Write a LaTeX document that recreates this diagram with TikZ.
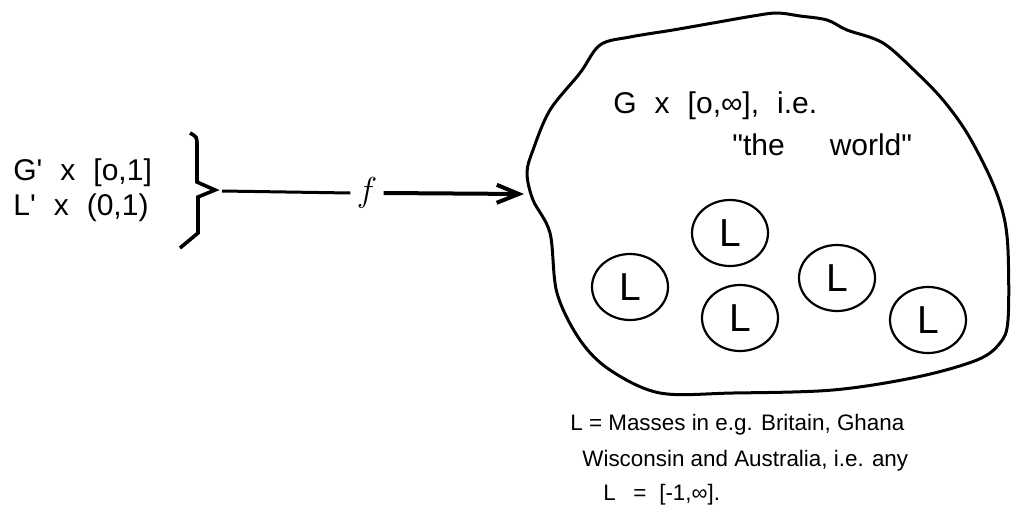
\documentclass[tikz,border=0pt]{standalone}
\usepackage{fontspec}
\setmainfont{Liberation Sans}[Ligatures=TeXOff]
\usetikzlibrary{arrows.meta,shapes.geometric}

\begin{document}
\begin{tikzpicture}[
  x=0.5pt, y=-0.5pt,
  label/.style={anchor=base west, inner sep=0pt,
                font={\fontsize{15}{18}\selectfont\spaceskip=0.6em\relax}},
  note/.style={anchor=base west, inner sep=0pt, font=\fontsize{11.2}{14}\selectfont},
  mass/.style={draw, ellipse, line width=1.1pt, minimum width=38pt,
               minimum height=33pt, inner sep=0pt, font=\fontsize{19.5}{22}\selectfont},
  brace/.style={line width=1.8pt, line join=miter},
  world/.style={line width=1.5pt, line join=round},
  map/.style={line width=1.5pt},
  maparrow/.style={line width=2pt, -{Straight Barb[length=11pt,width=9pt]}},
]
  \useasboundingbox (0,0) rectangle (1012,504);

  \node[label] (gsrc) at (13,180) {G' x [o,1]};
  \node[label] (lsrc) at (13,215) {L' x (0,1)};

  \draw[brace] (190,133) .. controls (197,137) .. (197,146) -- (197,182)
    -- (215,190) -- (198,197) -- (198,233) -- (180,248);
  \coordinate (btip) at (222,191);

  \node[inner xsep=3pt, inner ysep=0pt, font=\fontsize{17}{20}\selectfont] (fmap) at (367,193) {$f$};
  \coordinate (entry) at (524,194);
  \draw[map] (btip) -- (fmap.west);
  \draw[maparrow] (fmap.east) -- (entry);

  \draw[world] plot[smooth cycle, tension=0.55] coordinates {
    (527,173) (533,150) (550,110) (580,73) (600,45) (630,37) (673,30)
    (713,23) (753,16) (777,13) (800,16) (827,20) (847,30) (883,43)
    (917,73) (943,100) (967,133) (990,177) (1003,213) (1008,250)
    (1008,320) (1000,343) (977,360) (917,377) (833,390) (733,393)
    (660,393) (610,370) (580,340) (557,293) (550,233) (533,200)};

  \node[label] (worldtxt) at (613,113) {G x [o,∞], i.e.};
  \node[label] (worldq) at (732,155) {"the\hspace{0.9em} world"};

  \node[mass] (l1) at (630,287) {L};
  \node[mass] (l2) at (730,233) {L};
  \node[mass] (l3) at (740,318) {L};
  \node[mass] (l4) at (837,278) {L};
  \node[mass] (l5) at (928,320) {L};

  \node[note] (note1) at (570,430) {L = Masses in e.g. Britain, Ghana};
  \node[note] (note2) at (582,466) {Wisconsin and Australia, i.e. any};
  \node[note] (note3) at (603,500) {L\hspace{0.5em} = \hspace{0.3em}[-1,∞].};
\end{tikzpicture}
\end{document}
